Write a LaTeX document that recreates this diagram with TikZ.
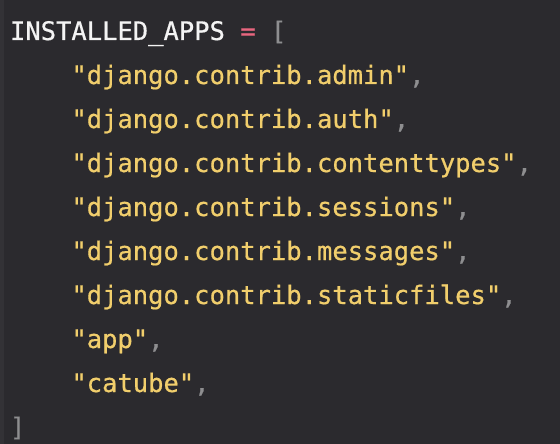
\documentclass[tikz,border=0pt]{standalone}
\usepackage{fontspec}
\newfontfamily\codefont{DejaVu Sans Mono}[FakeBold=0.6]
\definecolor{bgc}{HTML}{2B2A2E}
\definecolor{idc}{HTML}{F4F4F4}
\definecolor{strc}{HTML}{F1CE6C}
\definecolor{opc}{HTML}{E8667F}
\definecolor{punc}{HTML}{8E8E90}
\definecolor{edgec}{HTML}{333236}
\begin{document}
\begin{tikzpicture}[x=1pt,y=-1pt,
  codeline/.style={anchor=base west,inner sep=0pt,outer sep=0pt,
    font=\codefont\fontsize{25.5}{30}\selectfont,text=idc}]
\fill[bgc] (0,0) rectangle (560,444);
\useasboundingbox (0,0) rectangle (560,444);
\fill[edgec] (0,0) rectangle (4,444);
\node[codeline] (l1) at (10,40) {INSTALLED\_APPS {\color{opc}=} {\color{punc}[}};
\node[codeline,text=strc] (l2) at (71.4,84) {"django.contrib.admin"{\color{punc},}};
\node[codeline,text=strc] (l3) at (71.4,128) {"django.contrib.auth"{\color{punc},}};
\node[codeline,text=strc] (l4) at (71.4,172) {"django.contrib.contenttypes"{\color{punc},}};
\node[codeline,text=strc] (l5) at (71.4,216) {"django.contrib.sessions"{\color{punc},}};
\node[codeline,text=strc] (l6) at (71.4,260) {"django.contrib.messages"{\color{punc},}};
\node[codeline,text=strc] (l7) at (71.4,304) {"django.contrib.staticfiles"{\color{punc},}};
\node[codeline,text=strc] (l8) at (71.4,348) {"app"{\color{punc},}};
\node[codeline,text=strc] (l9) at (71.4,392) {"catube"{\color{punc},}};
\node[codeline,text=punc] (l10) at (10,436) {]};
\end{tikzpicture}
\end{document}
